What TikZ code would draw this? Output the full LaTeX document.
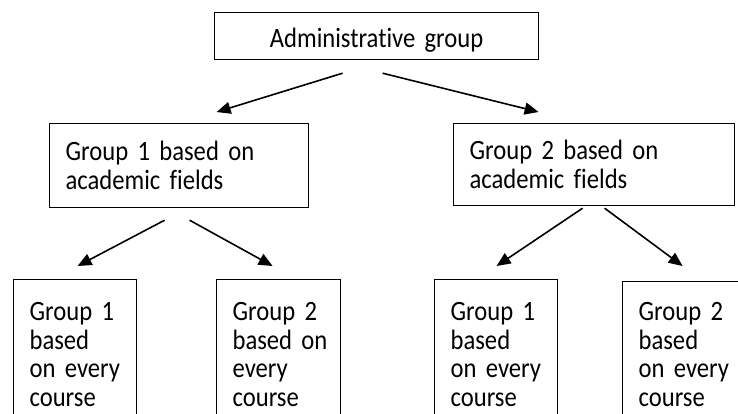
\documentclass[tikz,border=0pt]{standalone}
\usepackage{fontspec}
\setmainfont{Carlito}[FakeStretch=0.88, Ligatures=NoCommon]
\usetikzlibrary{arrows.meta,calc}

\DeclareRobustCommand\grpfont{\fontsize{28}{28.5}\selectfont\spaceskip=5.6pt plus 1pt minus 1pt\relax}

\tikzset{
  grp/.style={draw, line width=1.2pt, rectangle, anchor=north west,
    inner xsep=16pt, inner ysep=0pt, align=left, font=\grpfont},
  link/.style={-{Triangle[length=14pt,width=12pt]}, line width=1.6pt}
}

\begin{document}
\begin{tikzpicture}[x=1pt,y=-1pt]
\useasboundingbox (0,0) rectangle (738,413);
\clip (0,0) rectangle (738,413);

% Top box
\node[grp, align=center, text width=292pt, minimum height=47pt, text height=23pt, text depth=0pt] (admin) at (214,12) {Administrative group};

% Groups based on academic fields
\node[grp, text width=227pt, minimum height=84pt] (field1) at (49,123) {Group 1 based on\\academic fields};
\node[grp, text width=249pt, minimum height=82pt] (field2) at (453,123) {Group 2 based on\\academic fields};

% Groups based on every course
\node[grp, text width=91pt, minimum height=150pt] (course11) at (13,279) {Group 1\\based\\on~every\\course};
\node[grp, text width=92pt, minimum height=150pt] (course12) at (216,279) {Group 2\\based~on\\every\\course};
\node[grp, text width=91pt, minimum height=150pt] (course21) at (434,279) {Group 1\\based\\on~every\\course};
\node[grp, text width=92pt, minimum height=146pt] (course22) at (622,281) {Group 2\\based\\on~every\\course};

% Arrows from the top box
\draw[link] ($(admin.south)+(-34,13)$) -- ($(field1.north)+(37.5,-11)$);
\draw[link] ($(admin.south)+(6,13)$) -- ($(field2.north)+(-55.5,-11)$);

% Arrows from the first field group
\draw[link] ($(field1.south)+(-14.5,12)$) -- ($(course11.north)+(2.5,-13)$);
\draw[link] ($(field1.south)+(10.5,12)$) -- ($(course12.north)+(-6,-13)$);

% Arrows from the second field group
\draw[link] ($(field2.south)+(-11.5,2)$) -- ($(course21.north)+(0.5,-13)$);
\draw[link] ($(field2.south)+(10.5,2)$) -- ($(course22.north)+(-2,-15)$);
\end{tikzpicture}
\end{document}
